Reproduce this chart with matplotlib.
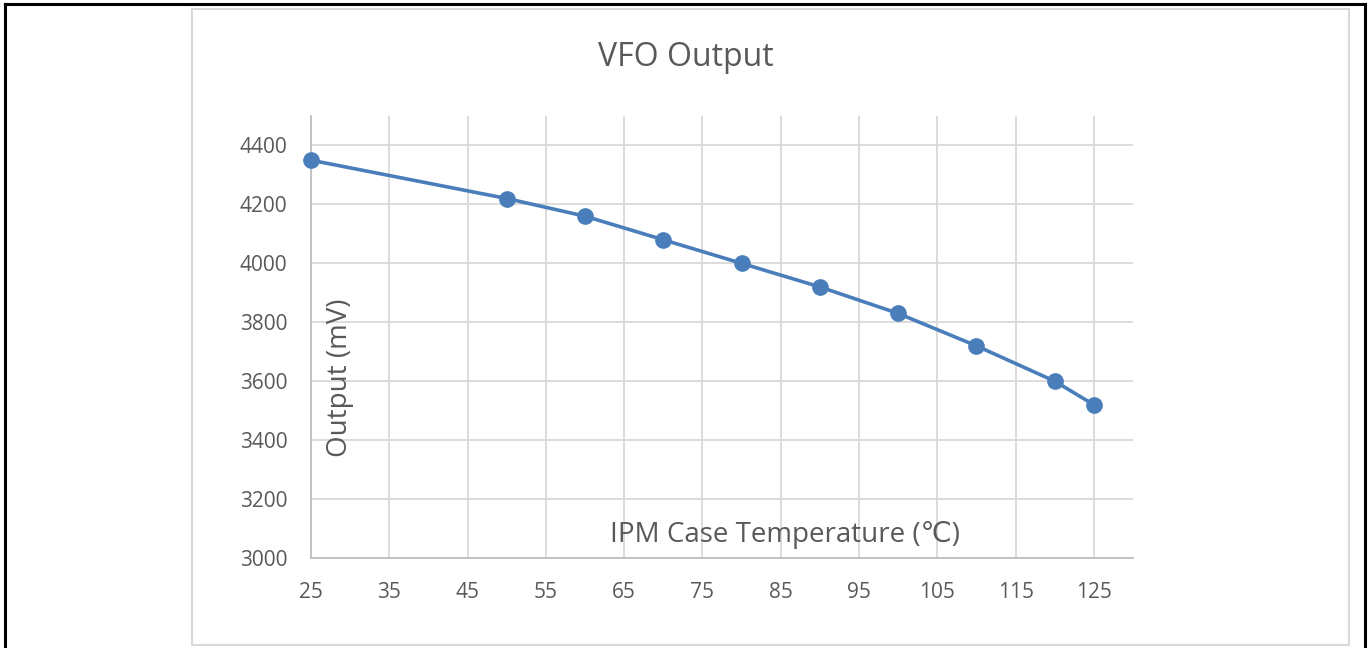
import matplotlib
matplotlib.use("Agg")
import matplotlib.pyplot as plt
from matplotlib.lines import Line2D

temps = [25, 50, 60, 70, 80, 90, 100, 110, 120, 125]
output_mv = [4350, 4220, 4160, 4080, 4000, 3920, 3830, 3720, 3600, 3520]
x_ticks = [25, 35, 45, 55, 65, 75, 85, 95, 105, 115, 125]
y_ticks = [3000, 3200, 3400, 3600, 3800, 4000, 4200, 4400]

title = "VFO Output"
xlabel = "IPM Case Temperature (\u2103)"
ylabel = "Output (mV)"

W, H = 1371, 648
fig = plt.figure(figsize=(W / 100, H / 100), dpi=100)
fam = ["Open Sans", "DejaVu Sans"]
txt = "#595959"

# outer black frame
for xs, ys in [((5, 5), (4, H + 5)), ((5, 1365), (4, 4)), ((1365, 1365), (4, H + 5))]:
    fig.add_artist(Line2D([x / W for x in xs], [1 - y / H for y in ys],
                          color="black", lw=2.2, transform=fig.transFigure))
# inner chart box
bx0, bx1, by0, by1 = 192, 1349, 9, 645
fig.add_artist(plt.Rectangle((bx0 / W, 1 - by1 / H), (bx1 - bx0) / W, (by1 - by0) / H,
                             fill=False, edgecolor="#d9d9d9", lw=1.5,
                             transform=fig.transFigure))

L, R, T, B = 311, 1133, 116, 558
ax = fig.add_axes([L / W, 1 - B / H, (R - L) / W, (B - T) / H])
ax.set_xlim(25, 130)
ax.set_ylim(3000, 4500)
ax.set_xticks(x_ticks)
ax.set_yticks(y_ticks)
ax.grid(True, color="#d9d9d9", lw=1.3)
ax.set_axisbelow(True)
for s in ["top", "right"]:
    ax.spines[s].set_visible(False)
for s in ["left", "bottom"]:
    ax.spines[s].set_color("#bfbfbf")
    ax.spines[s].set_linewidth(1.3)
ax.tick_params(length=0, labelsize=15, labelcolor=txt, pad=17)
for lab in ax.get_xticklabels() + ax.get_yticklabels():
    lab.set_family(fam)

ax.plot(temps, output_mv, color="#4a7ebb", lw=2.6, marker="o", markersize=11,
        clip_on=False, zorder=3)

fig.text(686 / W, 1 - 57 / H, title, ha="center", va="center", fontsize=23,
         color=txt, family=fam)
# axis titles placed inside the plot area (as in the reference)
fig.text(785 / W, 1 - 535 / H, xlabel, ha="center", va="center", fontsize=20,
         color=txt, family=fam)
fig.text(340 / W, 1 - 378 / H, ylabel, ha="center", va="center", rotation=90,
         fontsize=20, color=txt, family=fam)

fig.savefig("out.png", dpi=100)
